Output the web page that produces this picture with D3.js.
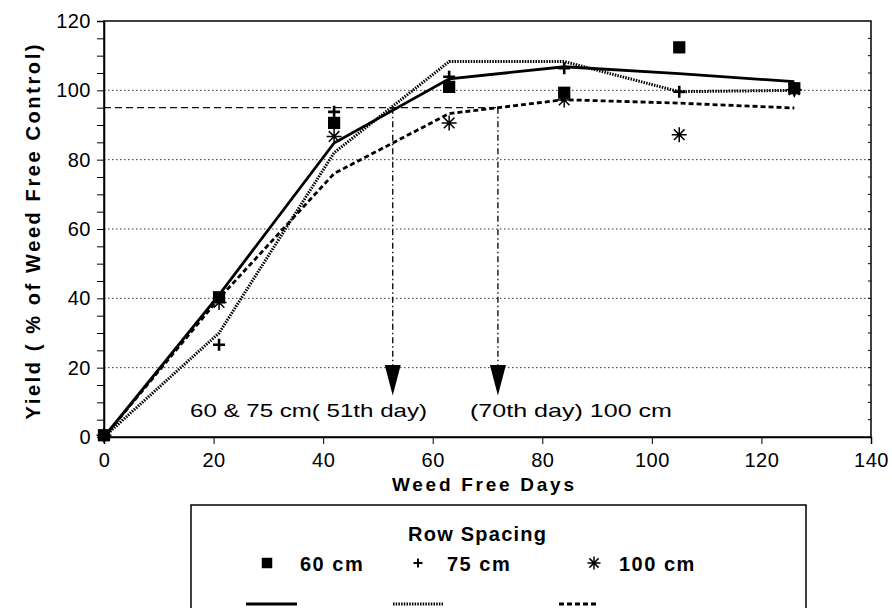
<!DOCTYPE html>
<html>
<head>
<meta charset="utf-8">
<script src="https://cdn.jsdelivr.net/npm/d3@7"></script>
<style>
  body { margin: 0; background: #fff; }
  text { font-family: "Liberation Sans", Arial, sans-serif; }
</style>
</head>
<body>
<div id="chart-area"></div>
<script>
let width = 892,
    height = 608;

const margin = {top: 21, right: 21, bottom: 171, left: 104};

// observed points
const days = [0, 21, 42, 63, 84, 105, 126];
const obs60 = [0.5, 40.3, 90.6, 101, 99.3, 112.4, 100.6];
const obs75 = [0.5, 26.6, 93.8, 103.9, 106.4, 99.6, 100.2];
const obs100 = [0.5, 38.8, 86.7, 90.6, 97.2, 87.2, 100.2];

// fitted curves
const fit60 = [0, 41, 84.8, 103.3, 106.8, 104.8, 102.5];
const fit75 = [0, 30, 82, 108.3, 108.3, 99.6, 100];
const fit100 = [0, 40, 76, 93.3, 97.3, 96.3, 94.9];

const xTicks = [0, 20, 40, 60, 80, 100, 120, 140];
const yTicks = [0, 20, 40, 60, 80, 100, 120];
const gridY = [20, 40, 60, 80, 100];

// 95 % threshold and where each spacing reaches it
const threshold = 95;
const crossDays = [52.7, 71.9];
const crossLabels = ["60 & 75 cm( 51th day)", "(70th day) 100 cm"];

const legendNames = ["60 cm", "75 cm", "100 cm"];

const svg = d3.select("#chart-area")
  .append("svg")
  .attr("width", width)
  .attr("height", height);

let x = d3.scaleLinear().domain([0, 140]).range([margin.left, width - margin.right]);
let y = d3.scaleLinear().domain([0, 120]).range([height - margin.bottom, margin.top]);

// grid
svg.append("g")
  .selectAll("line")
  .data(gridY)
  .join("line")
  .attr("x1", x(0)).attr("x2", x(140))
  .attr("y1", d => y(d)).attr("y2", d => y(d))
  .attr("stroke", "#333")
  .attr("stroke-width", 1)
  .attr("stroke-dasharray", "1.5,2.5");

// 95% line
svg.append("line")
  .attr("x1", x(0)).attr("x2", x(crossDays[1]))
  .attr("y1", y(threshold)).attr("y2", y(threshold))
  .attr("stroke", "#111")
  .attr("stroke-width", 1.3)
  .attr("stroke-dasharray", "7,4");

// drop lines + arrows
crossDays.forEach(d => {
  svg.append("line")
    .attr("x1", x(d)).attr("x2", x(d))
    .attr("y1", y(threshold)).attr("y2", y(20))
    .attr("stroke", "#111")
    .attr("stroke-width", 1.4)
    .attr("stroke-dasharray", "6,3,1.5,3");
  svg.append("path")
    .attr("d", `M${x(d) - 8},${y(20.8)}L${x(d) + 8},${y(20.8)}L${x(d)},${y(12)}Z`)
    .attr("fill", "#000");
});

svg.append("text")
  .attr("x", 190).attr("y", 417)
  .attr("font-size", 19)
  .attr("textLength", 237)
  .attr("lengthAdjust", "spacingAndGlyphs")
  .text(crossLabels[0]);
svg.append("text")
  .attr("x", 470).attr("y", 417)
  .attr("font-size", 19)
  .attr("textLength", 202)
  .attr("lengthAdjust", "spacingAndGlyphs")
  .text(crossLabels[1]);

// frame
svg.append("rect")
  .attr("x", x(0)).attr("y", y(120))
  .attr("width", x(140) - x(0))
  .attr("height", y(0) - y(120))
  .attr("fill", "none")
  .attr("stroke", "#000")
  .attr("stroke-width", 1.5);

// axes
const xAxis = g => g
  .attr("transform", `translate(0,${y(0)})`)
  .call(d3.axisBottom(x).tickValues(xTicks).tickSize(7).tickPadding(9).tickFormat(d3.format("d")))
  .call(g => g.select(".domain").attr("stroke-width", 1.5))
  .call(g => g.selectAll("text").attr("font-size", 20).attr("letter-spacing", 0.5).attr("fill", "#000")
    .attr("font-family", "Liberation Sans, Arial, sans-serif"));

const yAxis = g => g
  .attr("transform", `translate(${x(0)},0)`)
  .call(d3.axisLeft(y).tickValues(d3.range(0, 121, 5)).tickSize(7).tickPadding(6)
    .tickFormat(d => yTicks.includes(d) ? d : ""))
  .call(g => g.select(".domain").attr("stroke-width", 1.5))
  .call(g => g.selectAll("text").attr("font-size", 20).attr("letter-spacing", 0.5).attr("fill", "#000")
    .attr("font-family", "Liberation Sans, Arial, sans-serif"));

svg.append("g").call(xAxis);
svg.append("g").call(yAxis);

// right side minor ticks
svg.append("g")
  .selectAll("line")
  .data(d3.range(5, 120, 5))
  .join("line")
  .attr("x1", x(140)).attr("x2", x(140) - 3)
  .attr("y1", d => y(d)).attr("y2", d => y(d))
  .attr("stroke", "#000");

// axis titles
svg.append("text")
  .attr("x", 392).attr("y", 491)
  .attr("font-size", 19)
  .attr("font-weight", "bold")
  .attr("textLength", 182)
  .text("Weed Free Days");

svg.append("text")
  .attr("transform", `translate(40,${(y(0) + y(120)) / 2 + 3}) rotate(-90)`)
  .attr("text-anchor", "middle")
  .attr("font-size", 20)
  .attr("font-weight", "bold")
  .attr("textLength", 375)
  .text("Yield ( % of Weed Free Control)");

// fitted lines
const line = d3.line()
  .x((d, i) => x(days[i]))
  .y(d => y(d));

const styles = [
  {dash: null, width: 2.8},
  {dash: "1.5,1.2", width: 3},
  {dash: "5,3", width: 2.8}
];

[fit60, fit75, fit100].forEach((s, k) => {
  svg.append("path")
    .datum(s)
    .attr("fill", "none")
    .attr("stroke", "#000")
    .attr("stroke-width", styles[k].width)
    .attr("stroke-dasharray", styles[k].dash)
    .attr("d", line);
});

// symbols
const symSquare = d3.symbol().type(d3.symbolSquare).size(150);

function drawPlus(sel) {
  sel.append("path").attr("d", "M-6,0H6M0,-6V6").attr("stroke", "#000").attr("stroke-width", 2.6).attr("fill", "none");
}
function drawStar(sel, r) {
  const p = [];
  for (let a = 0; a < 4; a++) {
    const t = a * Math.PI / 4;
    p.push(`M${-r * Math.cos(t)},${-r * Math.sin(t)}L${r * Math.cos(t)},${r * Math.sin(t)}`);
  }
  sel.append("path").attr("d", p.join("")).attr("stroke", "#000").attr("stroke-width", 1.5).attr("fill", "none");
}

svg.append("g")
  .selectAll("path")
  .data(obs60)
  .join("path")
  .attr("transform", (d, i) => `translate(${x(days[i])},${y(d)})`)
  .attr("d", symSquare)
  .attr("fill", "#000");

svg.append("g")
  .selectAll("g")
  .data(obs75)
  .join("g")
  .attr("transform", (d, i) => `translate(${x(days[i])},${y(d)})`)
  .each(function() { drawPlus(d3.select(this)); });

svg.append("g")
  .selectAll("g")
  .data(obs100)
  .join("g")
  .attr("transform", (d, i) => `translate(${x(days[i])},${y(d)})`)
  .each(function() { drawStar(d3.select(this), 7.5); });

// legend
const legend = svg.append("g");
legend.append("rect")
  .attr("x", 191).attr("y", 505)
  .attr("width", 615).attr("height", 120)
  .attr("fill", "#fff")
  .attr("stroke", "#000")
  .attr("stroke-width", 1.5);

legend.append("text")
  .attr("x", 408).attr("y", 541)
  .attr("font-size", 20)
  .attr("font-weight", "bold")
  .attr("textLength", 138)
  .text("Row Spacing");

const legX = [267, 418, 594];
const legTextX = [300, 447, 619];
const legLine = [[246, 297], [393, 443], [559, 598]];

legend.append("path")
  .attr("transform", `translate(${legX[0]},563)`)
  .attr("d", d3.symbol().type(d3.symbolSquare).size(110))
  .attr("fill", "#000");
drawPlus(legend.append("g").attr("transform", `translate(${legX[1]},563) scale(0.75)`));
drawStar(legend.append("g").attr("transform", `translate(${legX[2]},563)`), 6.5);

legend.selectAll("text.name")
  .data(legendNames)
  .join("text")
  .attr("class", "name")
  .attr("x", (d, i) => legTextX[i])
  .attr("y", 571)
  .attr("font-size", 20)
  .attr("font-weight", "bold")
  .attr("letter-spacing", 1.5)
  .text(d => d);

legLine.forEach((p, k) => {
  legend.append("line")
    .attr("x1", p[0]).attr("x2", p[1])
    .attr("y1", 604).attr("y2", 604)
    .attr("stroke", "#000")
    .attr("stroke-width", styles[k].width)
    .attr("stroke-dasharray", styles[k].dash);
});
</script>
</body>
</html>
